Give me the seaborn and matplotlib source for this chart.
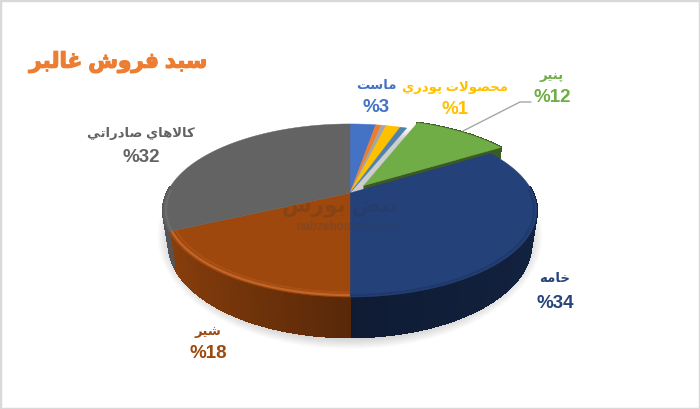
import numpy as np
import matplotlib
matplotlib.use("Agg")
import matplotlib.pyplot as plt
import matplotlib.patheffects as pe
import seaborn as sns
from matplotlib.patches import Ellipse, Rectangle
from matplotlib.path import Path
from matplotlib.transforms import Affine2D, Transform

# ---- data ----
title_text = "سبد فروش غالبر"
slice_names = ["ماست", "سایر ۱", "سایر ۲", "محصولات پودري", "سایر ۳", "پنير", "خامه", "شير", "كالاهاي صادراتي"]
slice_values = [2.7, 0.6, 0.5, 1.5, 0.7, 10.2, 33.8, 18.0, 32.0]
slice_explode = [0, 0, 0, 0, 0, 0.12, 0, 0, 0]
slice_colors = ["#4472c4", "#ed7d31", "#a5a5a5", "#ffc000", "#4f81ad", "#70ad47", "#24417a", "#9e480e", "#636363"]
label_names = ["ماست", "محصولات پودري", "پنير", "خامه", "شير", "كالاهاي صادراتي"]
label_percents = ["%3", "%1", "%12", "%34", "%18", "%32"]
label_colors = ["#4472c4", "#ffc000", "#70ad47", "#264478", "#9e480e", "#636363"]
label_x = [376, 455, 552, 555, 208, 141]
label_y_name = [86, 88, 76, 279, 332, 134]
label_y_pct = [107, 109, 97, 304, 354, 157]

# ---- minimal Arabic-script shaping, matplotlib has none ----
FORMS = {
    "ا": (0xFE8D, 0xFE8E), "ب": (0xFE8F, 0xFE90, 0xFE91, 0xFE92), "پ": (0xFB56, 0xFB57, 0xFB58, 0xFB59),
    "ت": (0xFE95, 0xFE96, 0xFE97, 0xFE98), "ح": (0xFEA1, 0xFEA2, 0xFEA3, 0xFEA4), "خ": (0xFEA5, 0xFEA6, 0xFEA7, 0xFEA8),
    "د": (0xFEA9, 0xFEAA), "ر": (0xFEAD, 0xFEAE), "س": (0xFEB1, 0xFEB2, 0xFEB3, 0xFEB4),
    "ش": (0xFEB5, 0xFEB6, 0xFEB7, 0xFEB8), "ص": (0xFEB9, 0xFEBA, 0xFEBB, 0xFEBC), "ض": (0xFEBD, 0xFEBE, 0xFEBF, 0xFEC0),
    "غ": (0xFECD, 0xFECE, 0xFECF, 0xFED0), "ف": (0xFED1, 0xFED2, 0xFED3, 0xFED4), "ك": (0xFED9, 0xFEDA, 0xFEDB, 0xFEDC),
    "ل": (0xFEDD, 0xFEDE, 0xFEDF, 0xFEE0), "م": (0xFEE1, 0xFEE2, 0xFEE3, 0xFEE4), "ن": (0xFEE5, 0xFEE6, 0xFEE7, 0xFEE8),
    "ه": (0xFEE9, 0xFEEA, 0xFEEB, 0xFEEC), "و": (0xFEED, 0xFEEE), "ي": (0xFEF1, 0xFEF2, 0xFEF3, 0xFEF4),
}


def shape(text):
    text = text.replace("لا", "\uFEFB")
    out = []
    chars = list(text)
    for i, ch in enumerate(chars):
        prev = chars[i - 1] if i else " "
        nxt = chars[i + 1] if i + 1 < len(chars) else " "
        joins_prev = prev in FORMS and len(FORMS[prev]) == 4
        if ch == "\uFEFB":
            out.append("\uFEFC" if joins_prev else "\uFEFB")
            continue
        if ch not in FORMS:
            out.append(ch)
            continue
        f = FORMS[ch]
        joins_next = len(f) == 4 and (nxt in FORMS or nxt == "\uFEFB")
        if joins_prev and joins_next:
            g = f[3]
        elif joins_prev:
            g = f[1]
        elif joins_next:
            g = f[2]
        else:
            g = f[0]
        out.append(chr(g))
    return "".join(reversed(out))


# ---- perspective disc -> pixel mapping ----
CX, CY, KX, KY, PERSP = 350.0, 193.0, 183.0, 83.0, 0.2023


def project(X, Y):
    w = 1 + PERSP * Y
    return CX + KX * X / w, CY - KY * Y / w


def project_bottom(X, Y):
    x, y = project(X, Y)
    return CX + (x - CX) * 0.97, y + 32.0 / (1 + PERSP * Y)


class DiscTransform(Transform):
    input_dims = output_dims = 2
    is_separable = False
    has_inverse = False

    def transform_non_affine(self, values):
        values = np.asarray(values, dtype=float)
        return np.column_stack(project(values[:, 0], values[:, 1]))

    def transform_path_non_affine(self, path):
        polys = path.transformed(Affine2D().scale(2000)).to_polygons(closed_only=False)
        return Path(self.transform_non_affine(polys[0] / 2000))


sns.set_theme(style="white", palette=sns.color_palette(slice_colors))
plt.rcParams["font.family"] = ["Liberation Sans", "DejaVu Sans"]
plt.rcParams["font.weight"] = "bold"

fig = plt.figure(figsize=(7.0, 4.09), dpi=100, facecolor="white")
ax = fig.add_axes([0, 0, 1, 1])

wedges, _ = ax.pie(slice_values, explode=slice_explode, colors=slice_colors, startangle=90,
                   counterclock=False, radius=1, normalize=True,
                   wedgeprops={"linewidth": 0.3})
ax.set_aspect("auto")
ax.set_xlim(0, 700)
ax.set_ylim(409, 0)
ax.axis("off")

# soft shadow under the disc
for i in range(14):
    ax.add_patch(Ellipse((350, 236), 2 * (178 + i * 1.1), 2 * (100 + i * 1.0),
                         fc="#606060", ec="none", alpha=0.022, zorder=1))

disc = DiscTransform()
wall_shade = {6: (0.42, 0.10), 7: (0.56, 0.34), 8: (0.72, 0.15), 5: (0.55, 0.0)}

for idx, w in enumerate(wedges):
    w.set_transform(disc + ax.transData)
    w.set_zorder(3)
    w.set_edgecolor(slice_colors[idx])
    cx0, cy0 = w.center
    base = np.array(matplotlib.colors.to_rgb(slice_colors[idx]))
    angles = np.arange(w.theta1, w.theta2 + 0.01, 1.5)
    if angles[-1] < w.theta2:
        angles = np.append(angles, w.theta2)
    a0, a1 = wall_shade.get(idx, (0.6, 0.0))
    # curved outer wall, built in small shaded strips (drawn with overlap so no seams show)
    for t0, t1 in zip(angles[:-1], angles[1:]):
        ts = np.radians([t0, t1])
        X, Y = cx0 + np.cos(ts), cy0 + np.sin(ts)
        if Y.max() > 0.1 and idx != 5:
            continue
        xt, yt = project(X, Y)
        xb, yb = project_bottom(X, Y)
        col = np.clip(base * (a0 + a1 * abs(X.mean())), 0, 1)
        ax.fill(np.r_[xt, xb[::-1]], np.r_[yt, yb[::-1]], facecolor=col, edgecolor=col, lw=1.0,
                antialiased=False, zorder=2)
    # radial cut face of the exploded slice
    if slice_explode[idx] > 0:
        t = np.radians(w.theta2 if np.sin(np.radians(w.theta2)) < np.sin(np.radians(w.theta1)) else w.theta1)
        X = np.array([cx0, cx0 + np.cos(t)])
        Y = np.array([cy0, cy0 + np.sin(t)])
        xt, yt = project(X, Y)
        xb, yb = project_bottom(X, Y)
        ax.fill(np.r_[xt, xb[::-1]], np.r_[yt, yb[::-1]], color="#3c5a26", lw=0.4, zorder=2.5)

# bevel on the front rim of the top face
bevels = {6: ("#1a3058", 0.45, 0.0), 7: ("#c9682a", 0.9, 0.3), 8: ("#7d7d7d", 0.4, 0.0)}
for idx, (col, alpha, inner) in bevels.items():
    w = wedges[idx]
    ts = np.radians(np.linspace(w.theta1, w.theta2, 160))
    keep = np.sin(ts) < 0.05
    for r, lw, k in [(0.985, 1.6, 1.0), (0.965, 1.4, inner)]:
        if k == 0:
            continue
        x, y = project(r * np.cos(ts[keep]), r * np.sin(ts[keep]))
        ax.plot(x, y, color=col, lw=lw, alpha=alpha * k, zorder=3.5, solid_capstyle="butt")

# leader line of the green slice
ax.plot([463, 520, 531], [131, 102, 102], color="#a6a6a6", lw=1.0, zorder=4)

# watermark
ax.text(340, 208, shape("نبض بورس"), fontsize=15.5, color="#303030", alpha=0.2,
        ha="center", va="center", zorder=4)
ax.text(346, 227, "nabzebourse.com", fontsize=8.5, color="#404040", alpha=0.25,
        ha="center", va="center", zorder=4)

# title and data labels
ax.text(118, 62, shape(title_text), fontsize=15.5, color="#ed7d31", ha="center", va="center", zorder=5,
        path_effects=[pe.withStroke(linewidth=0.9, foreground="#ed7d31")])
for name, pct, col, x, yn, yp in zip(label_names, label_percents, label_colors, label_x, label_y_name, label_y_pct):
    ax.text(x, yn, shape(name), fontsize=9.5, color=col, ha="center", va="center", zorder=5)
    ax.text(x, yp, pct, fontsize=13.5, color=col, ha="center", va="center", zorder=5)

fig.add_artist(Rectangle((0, 0), 1, 1, transform=fig.transFigure, fc="none", ec="#d9d9d9", lw=2.5))
fig.savefig("out.png", dpi=100, facecolor="white")
